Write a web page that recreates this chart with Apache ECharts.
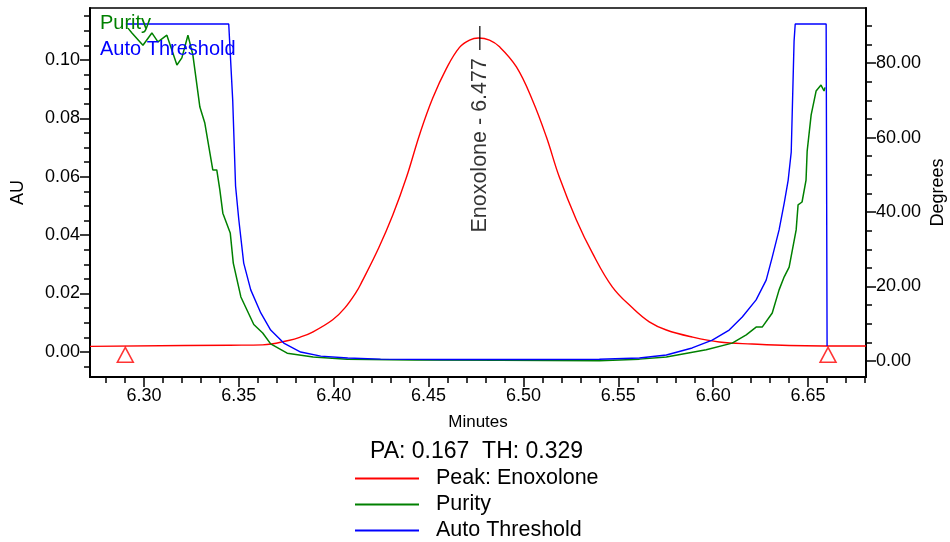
<!DOCTYPE html>
<html>
<head>
<meta charset="utf-8">
<script src="https://cdn.jsdelivr.net/npm/echarts@6.0.0/dist/echarts.min.js"></script>
<style>html,body{margin:0;padding:0;background:#fff}#c{width:950px;height:542px}</style>
</head>
<body>
<div id="c"></div>
<script>
// ---------- data ----------
const xMajorTicks = [6.30, 6.35, 6.40, 6.45, 6.50, 6.55, 6.60, 6.65];
const xMinorTicks = [6.28, 6.29, 6.30, 6.31, 6.32, 6.33, 6.34, 6.35, 6.36, 6.37, 6.38, 6.39, 6.40, 6.41, 6.42, 6.43, 6.44, 6.45, 6.46, 6.47, 6.48, 6.49, 6.50, 6.51, 6.52, 6.53, 6.54, 6.55, 6.56, 6.57, 6.58, 6.59, 6.60, 6.61, 6.62, 6.63, 6.64, 6.65, 6.66, 6.67, 6.68];
const auMajorTicks = [0.00, 0.02, 0.04, 0.06, 0.08, 0.10];
const auMinorTicks = [-0.005, 0, 0.005, 0.01, 0.015, 0.02, 0.025, 0.03, 0.035, 0.04, 0.045, 0.05, 0.055, 0.06, 0.065, 0.07, 0.075, 0.08, 0.085, 0.09, 0.095, 0.10, 0.105, 0.11, 0.115];
const degMajorTicks = [0, 20, 40, 60, 80];
const degMinorTicks = [0, 5, 10, 15, 20, 25, 30, 35, 40, 45, 50, 55, 60, 65, 70, 75, 80, 85, 90];

const seriesNames = ['Peak: Enoxolone', 'Purity', 'Auto Threshold'];
const paValue = 0.167;
const thValue = 0.329;

const peakMinutes = [6.2716, 6.3453, 6.3626, 6.3768, 6.3821, 6.3889, 6.3995, 6.4058, 6.4121, 6.4147, 6.4237, 6.4311, 6.4384, 6.4453, 6.4521, 6.4595, 6.4663, 6.4716, 6.4763, 6.4821, 6.4874, 6.4963, 6.5047, 6.5121, 6.5189, 6.5279, 6.5363, 6.5468, 6.5574, 6.5663, 6.5753, 6.5889, 6.6032, 6.6205, 6.6400, 6.6805];
const peakAU      = [0.0019, 0.0023, 0.0024, 0.0040, 0.0050, 0.0068, 0.0110, 0.0150, 0.0207, 0.0238, 0.0356, 0.0468, 0.0599, 0.0745, 0.0868, 0.0972, 0.1043, 0.1068, 0.1075, 0.1068, 0.1045, 0.0976, 0.0863, 0.0736, 0.0599, 0.0452, 0.0339, 0.0223, 0.0151, 0.0103, 0.0075, 0.0051, 0.0034, 0.0027, 0.0022, 0.0020];

const purityMinutes = [6.2916, 6.2937, 6.2995, 6.3042, 6.3074, 6.3121, 6.3174, 6.3200, 6.3232, 6.3258, 6.3295, 6.3321, 6.3363, 6.3384, 6.3400, 6.3416, 6.3455, 6.3471, 6.3511, 6.3579, 6.3626, 6.3668, 6.3755, 6.3892, 6.4071, 6.4421, 6.4874, 6.5400, 6.5611, 6.5753, 6.5963, 6.6100, 6.6174, 6.6226, 6.6258, 6.6311, 6.6347, 6.6374, 6.6400, 6.6437, 6.6447, 6.6468, 6.6489, 6.6495, 6.6516, 6.6542, 6.6568, 6.6584, 6.6589];
const purityDeg     = [89.4, 88.1, 84.8, 88.1, 85.7, 87.5, 79.5, 81.4, 87.5, 82.2, 68.2, 63.9, 51.3, 51.3, 46.0, 39.7, 34.4, 26.3, 17.2, 9.8, 7.5, 4.6, 2.1, 1.1, 0.5, 0.27, 0.2, 0.05, 0.5, 1.1, 3.0, 4.8, 7.0, 9.1, 9.1, 12.9, 19.1, 22.6, 25.2, 35.2, 41.9, 42.7, 48.6, 56.4, 66.1, 72.5, 74.1, 72.5, 73.5];

const thresholdMinutes = [6.2905, 6.3447, 6.3468, 6.3483, 6.3500, 6.3526, 6.3563, 6.3616, 6.3668, 6.3737, 6.3826, 6.3932, 6.4074, 6.4247, 6.4563, 6.5000, 6.5400, 6.5611, 6.5753, 6.5889, 6.5995, 6.6084, 6.6153, 6.6226, 6.6279, 6.6311, 6.6347, 6.6374, 6.6395, 6.6411, 6.6426, 6.6432, 6.6595, 6.6600];
const thresholdDeg     = [90.5, 90.5, 70.0, 47.0, 38.0, 26.3, 19.1, 12.9, 8.3, 4.8, 2.4, 1.3, 0.8, 0.5, 0.4, 0.4, 0.45, 0.8, 1.6, 3.5, 5.6, 8.3, 11.8, 16.4, 21.7, 27.9, 35.2, 42.4, 48.6, 56.1, 85.9, 90.5, 90.5, 4.0];

const markerMinutes = [6.2902, 6.6605];
const markerAU = [-0.001, -0.001];

const peakLabelNames = ['Enoxolone - 6.477'];
const peakLabelMinutes = [6.477];
const peakLabelAU = [0.1075];

// axis extents
const xMin = 6.2716, xMax = 6.6805;
const auMin = -0.0086, auMax = 0.1178;
const degMin = -4.3, degMax = 94.8;

// ---------- chart ----------
const FONT = "'Liberation Sans', Arial, Helvetica, sans-serif";
const RED = '#ff0000', GREEN = '#008000', BLUE = '#0000ff';
const chart = echarts.init(document.getElementById('c'), null, {renderer: 'canvas'});
const zip = (a, b) => a.map((v, i) => [v, b[i]]);

function valueAxis(extra) {
  return Object.assign({
    type: 'value',
    splitLine: {show: false},
    minorTick: {show: false},
    minorSplitLine: {show: false},
    nameMoveOverlap: false
  }, extra);
}

const option = {
  animation: false,
  backgroundColor: '#fff',
  textStyle: {fontFamily: FONT},
  title: {
    text: 'PA: ' + paValue.toFixed(3) + '  TH: ' + thValue.toFixed(3),
    left: 365, top: 435,
    textStyle: {fontSize: 23, fontWeight: 'normal', color: '#000', fontFamily: FONT}
  },
  legend: [
    {
      data: seriesNames,
      orient: 'vertical',
      left: 355, top: 467.5, padding: 0, height: 80,
      icon: 'rect', itemWidth: 64, itemHeight: 2, itemGap: 4,
      selectedMode: false,
      textStyle: {fontSize: 21.5, color: '#000', fontFamily: FONT, padding: [0, 0, 0, 12], lineHeight: 21}
    },
    {
      data: [
        {name: seriesNames[1], textStyle: {color: GREEN}},
        {name: seriesNames[2], textStyle: {color: BLUE}}
      ],
      orient: 'vertical',
      left: 90, top: 8.5,
      icon: 'rect', itemWidth: 0, itemHeight: 20, itemGap: 6,
      selectedMode: false,
      textStyle: {fontSize: 20, fontFamily: FONT, lineHeight: 20}
    }
  ],
  grid: {
    left: 90, right: 84, top: 8, bottom: 165,
    show: true, borderColor: '#000', borderWidth: 1.5, backgroundColor: 'transparent',
    outerBoundsMode: 'none', containLabel: false
  },
  xAxis: [
    valueAxis({
      position: 'bottom', min: xMin, max: xMax,
      name: 'Minutes', nameLocation: 'middle', nameGap: 37,
      nameTextStyle: {fontSize: 17, color: '#000', fontFamily: FONT},
      axisLine: {show: true, onZero: false, lineStyle: {color: '#000', width: 2}},
      axisTick: {show: true, length: 10, customValues: xMajorTicks, lineStyle: {color: '#000', width: 1.5}},
      axisLabel: {show: true, customValues: xMajorTicks, formatter: v => v.toFixed(2), fontSize: 18, color: '#000', margin: 10, fontFamily: FONT}
    }),
    valueAxis({
      position: 'bottom', min: xMin, max: xMax,
      axisLine: {show: false, onZero: false},
      axisTick: {show: true, length: 6, customValues: xMinorTicks, lineStyle: {color: '#000', width: 1.5}},
      axisLabel: {show: false}
    })
  ],
  yAxis: [
    valueAxis({
      position: 'left', min: auMin, max: auMax,
      name: 'AU', nameLocation: 'middle', nameGap: 63, nameRotate: 90,
      nameTextStyle: {fontSize: 18, color: '#000', fontFamily: FONT},
      axisLine: {show: true, onZero: false, lineStyle: {color: '#000', width: 2}},
      axisTick: {show: true, length: 10, customValues: auMajorTicks, lineStyle: {color: '#000', width: 1.5}},
      axisLabel: {show: true, customValues: auMajorTicks, formatter: v => v.toFixed(2), fontSize: 18, color: '#000', margin: 10, fontFamily: FONT}
    }),
    valueAxis({
      position: 'left', min: auMin, max: auMax,
      axisLine: {show: false, onZero: false},
      axisTick: {show: true, length: 6, customValues: auMinorTicks, lineStyle: {color: '#000', width: 1.5}},
      axisLabel: {show: false}
    }),
    valueAxis({
      position: 'right', min: degMin, max: degMax,
      name: 'Degrees', nameLocation: 'middle', nameGap: 63, nameRotate: 90,
      nameTextStyle: {fontSize: 18, color: '#000', fontFamily: FONT},
      axisLine: {show: true, onZero: false, lineStyle: {color: '#000', width: 2}},
      axisTick: {show: true, length: 10, customValues: degMajorTicks, lineStyle: {color: '#000', width: 1.5}},
      axisLabel: {show: true, customValues: degMajorTicks, formatter: v => v.toFixed(2), fontSize: 18, color: '#000', margin: 10, fontFamily: FONT}
    }),
    valueAxis({
      position: 'right', min: degMin, max: degMax,
      axisLine: {show: false, onZero: false},
      axisTick: {show: true, length: 6, customValues: degMinorTicks, lineStyle: {color: '#000', width: 1.5}},
      axisLabel: {show: false}
    })
  ],
  series: [
    {
      name: seriesNames[0], type: 'line', xAxisIndex: 0, yAxisIndex: 0,
      data: zip(peakMinutes, peakAU),
      showSymbol: false, smooth: 0.4,
      lineStyle: {color: RED, width: 1.4}, itemStyle: {color: RED}, z: 2
    },
    {
      name: seriesNames[1], type: 'line', xAxisIndex: 0, yAxisIndex: 2,
      data: zip(purityMinutes, purityDeg),
      showSymbol: false,
      lineStyle: {color: GREEN, width: 1.5}, itemStyle: {color: GREEN}, z: 3
    },
    {
      name: seriesNames[2], type: 'line', xAxisIndex: 0, yAxisIndex: 2,
      data: zip(thresholdMinutes, thresholdDeg),
      showSymbol: false,
      lineStyle: {color: BLUE, width: 1.4}, itemStyle: {color: BLUE}, z: 3
    },
    {
      name: 'markers', type: 'scatter', xAxisIndex: 0, yAxisIndex: 0,
      data: zip(markerMinutes, markerAU),
      symbol: 'triangle', symbolSize: [16, 15], silent: true,
      itemStyle: {color: 'rgba(0,0,0,0)', borderColor: RED, borderWidth: 1.5}, z: 5
    },
    {
      name: 'peakLabel', type: 'scatter', xAxisIndex: 0, yAxisIndex: 0,
      data: peakLabelMinutes.map((x, i) => ({value: [x, peakLabelAU[i]], name: peakLabelNames[i]})),
      symbol: 'rect', symbolSize: [1.5, 24], silent: true,
      itemStyle: {color: '#000'},
      label: {
        show: true, formatter: '{b}', rotate: 90, position: [0.75, 32],
        align: 'right', verticalAlign: 'middle',
        fontSize: 21.5, color: '#000', fontFamily: FONT
      },
      z: 6
    }
  ]
};
chart.setOption(option);
</script>
</body>
</html>
